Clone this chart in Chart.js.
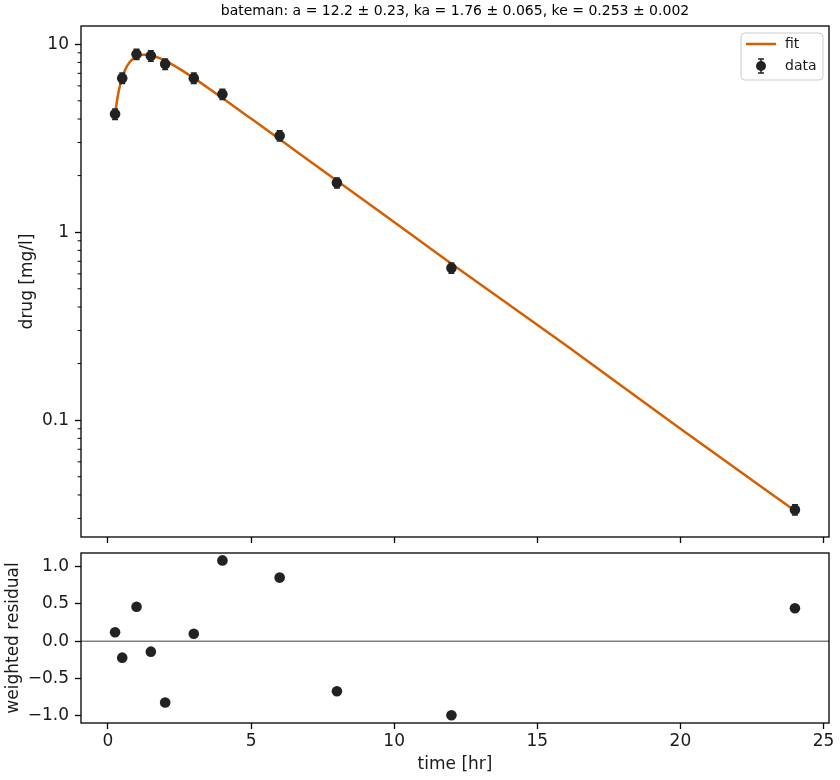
<!DOCTYPE html>
<html>
<head>
<meta charset="utf-8">
<script src="https://cdn.jsdelivr.net/npm/chart.js@4.4.1/dist/chart.umd.min.js"></script>
<style>
  html, body { margin: 0; padding: 0; background: #fff; }
  .box { position: absolute; left: 0; width: 840px; }
</style>
</head>
<body>
<div class="box" style="top:0;height:545px"><canvas id="top"></canvas></div>
<div class="box" style="top:545px;height:235px"><canvas id="bot"></canvas></div>
<script>
// measured samples
const times = [0.25, 0.5, 1, 1.5, 2, 3, 4, 6, 8, 12, 24];
const drug = [4.25, 6.6, 8.85, 8.67, 7.84, 6.6, 5.42, 3.26, 1.83, 0.645, 0.0334];
const drugErr = [0.27, 0.42, 0.56, 0.55, 0.5, 0.42, 0.34, 0.2, 0.11, 0.04, 0.0021];
const residuals = [0.12, -0.22, 0.46, -0.14, -0.82, 0.10, 1.08, 0.85, -0.67, -0.99, 0.44];

// fitted curve
const fitTimes = [0.25, 0.3, 0.35, 0.4, 0.5, 0.6, 0.7, 0.8, 0.9, 1.0, 1.2, 1.4, 1.6, 1.8, 2, 2.5, 3, 3.5, 4, 5, 6, 8, 12, 16, 20, 24];
const fitDrug = [4.2, 4.8, 5.35, 5.83, 6.65, 7.29, 7.78, 8.15, 8.43, 8.61, 8.79, 8.79, 8.65, 8.44, 8.17, 7.39, 6.6, 5.85, 5.17, 4.02, 3.12, 1.88, 0.68, 0.25, 0.09, 0.033];

const xTicks = [0, 5, 10, 15, 20, 25];
const drugTicks = [0.1, 1, 10];
const residTicks = [-1, -0.5, 0, 0.5, 1];

const titleText = 'bateman: a = 12.2 \u00b1 0.23, ka = 1.76 \u00b1 0.065, ke = 0.253 \u00b1 0.002';

const dataColor = '#222222';
const fitColor = '#d55e00';
const FONT = '"DejaVu Sans", sans-serif';

Chart.defaults.font.family = FONT;
Chart.defaults.font.size = 17;
Chart.defaults.color = '#1a1a1a';

const xRange = { min: -0.94, max: 25.19 };

function tickAxis(ticks) {
  return scale => { scale.ticks = ticks.map(v => ({ value: v })); };
}

// box around the plot area
const frame = {
  id: 'frame',
  afterDraw(chart) {
    const { ctx, chartArea: a } = chart;
    ctx.save();
    ctx.strokeStyle = '#000';
    ctx.lineWidth = 1.3;
    ctx.strokeRect(a.left, a.top, a.right - a.left, a.bottom - a.top);
    ctx.restore();
  }
};

// title centred over the plot area, like matplotlib
const axTitle = {
  id: 'axTitle',
  afterDraw(chart) {
    const { ctx, chartArea: a } = chart;
    ctx.save();
    ctx.fillStyle = '#000';
    ctx.font = '14px ' + FONT;
    ctx.textAlign = 'center';
    ctx.textBaseline = 'middle';
    ctx.fillText(titleText, (a.left + a.right) / 2, 11);
    ctx.restore();
  }
};

const minorTicks = {
  id: 'minorTicks',
  afterDraw(chart) {
    const { ctx, chartArea: a } = chart;
    const y = chart.scales.y;
    ctx.save();
    ctx.strokeStyle = '#000';
    ctx.lineWidth = 1;
    ctx.beginPath();
    for (let e = -2; e <= 1; e++) {
      for (let m = 2; m <= 9; m++) {
        const v = m * Math.pow(10, e);
        if (v < y.min || v > y.max) continue;
        const py = y.getPixelForValue(v);
        ctx.moveTo(a.left, py);
        ctx.lineTo(a.left - 3.4, py);
      }
    }
    ctx.stroke();
    ctx.restore();
  }
};

const errorBars = {
  id: 'errorBars',
  afterDatasetsDraw(chart) {
    const { ctx } = chart;
    const x = chart.scales.x, y = chart.scales.y;
    ctx.save();
    ctx.strokeStyle = dataColor;
    ctx.lineWidth = 1.5;
    times.forEach((t, i) => {
      const px = x.getPixelForValue(t);
      const lo = y.getPixelForValue(drug[i] - drugErr[i]);
      const hi = y.getPixelForValue(drug[i] + drugErr[i]);
      ctx.beginPath();
      ctx.moveTo(px, lo); ctx.lineTo(px, hi);
      ctx.moveTo(px - 3, lo); ctx.lineTo(px + 3, lo);
      ctx.moveTo(px - 3, hi); ctx.lineTo(px + 3, hi);
      ctx.stroke();
    });
    ctx.restore();
  }
};

const legendBox = {
  id: 'legendBox',
  afterDraw(chart) {
    const { ctx, chartArea: a } = chart;
    const left = a.right - 88, top = a.top + 7, w = 82, h = 47;
    ctx.save();
    ctx.fillStyle = 'rgba(255,255,255,0.8)';
    ctx.strokeStyle = '#cccccc';
    ctx.lineWidth = 1;
    ctx.beginPath();
    ctx.roundRect(left, top, w, h, 4);
    ctx.fill();
    ctx.stroke();
    // fit entry
    ctx.strokeStyle = fitColor;
    ctx.lineWidth = 2.5;
    ctx.beginPath();
    ctx.moveTo(left + 5, top + 11);
    ctx.lineTo(left + 35, top + 11);
    ctx.stroke();
    // data entry
    const mx = left + 20, my = top + 33;
    ctx.strokeStyle = dataColor;
    ctx.lineWidth = 1.5;
    ctx.beginPath();
    ctx.moveTo(mx, my - 7); ctx.lineTo(mx, my + 7);
    ctx.moveTo(mx - 3, my - 7); ctx.lineTo(mx + 3, my - 7);
    ctx.moveTo(mx - 3, my + 7); ctx.lineTo(mx + 3, my + 7);
    ctx.stroke();
    ctx.fillStyle = dataColor;
    ctx.beginPath();
    ctx.arc(mx, my, 5, 0, Math.PI * 2);
    ctx.fill();
    ctx.fillStyle = '#1a1a1a';
    ctx.font = '14px ' + FONT;
    ctx.textBaseline = 'middle';
    ctx.fillText('fit', left + 44, top + 11);
    ctx.fillText('data', left + 44, top + 33);
    ctx.restore();
  }
};

const zeroLine = {
  id: 'zeroLine',
  beforeDatasetsDraw(chart) {
    const { ctx, chartArea: a } = chart;
    const py = chart.scales.y.getPixelForValue(0);
    ctx.save();
    ctx.strokeStyle = '#808080';
    ctx.lineWidth = 1.5;
    ctx.beginPath();
    ctx.moveTo(a.left, py);
    ctx.lineTo(a.right, py);
    ctx.stroke();
    ctx.restore();
  }
};

const tickGrid = { drawOnChartArea: false, tickLength: 6, tickColor: '#000', tickWidth: 1.3 };

new Chart(document.getElementById('top'), {
  data: {
    datasets: [
      {
        type: 'scatter',
        label: 'data',
        data: times.map((t, i) => ({ x: t, y: drug[i] })),
        pointRadius: 5.3,
        pointBorderWidth: 0,
        pointBackgroundColor: dataColor,
        order: 0,
      },
      {
        type: 'line',
        label: 'fit',
        data: fitTimes.map((t, i) => ({ x: t, y: fitDrug[i] })),
        borderColor: fitColor,
        borderWidth: 2.5,
        pointRadius: 0,
        cubicInterpolationMode: 'monotone',
        order: 1,
      },
    ],
  },
  options: {
    responsive: true,
    maintainAspectRatio: false,
    animation: false,
    layout: { padding: { left: 0, right: 11, top: 26, bottom: 0 } },
    plugins: {
      legend: { display: false },
      tooltip: { enabled: false },
    },
    scales: {
      x: {
        type: 'linear',
        min: xRange.min,
        max: xRange.max,
        afterBuildTicks: tickAxis(xTicks),
        afterFit: s => { s.height = 8; s.paddingLeft = 0; s.paddingRight = 0; },
        ticks: { callback: () => '' },
        grid: tickGrid,
        border: { display: false },
      },
      y: {
        type: 'logarithmic',
        min: 0.0239,
        max: 12.5,
        afterBuildTicks: tickAxis(drugTicks),
        afterFit: s => { s.width = 81; s.paddingTop = 0; s.paddingBottom = 0; },
        ticks: { padding: 6, callback: v => String(v) },
        grid: tickGrid,
        border: { display: false },
        title: { display: true, text: 'drug [mg/l]', padding: 17.8 },
      },
    },
  },
  plugins: [errorBars, minorTicks, frame, legendBox, axTitle],
});

new Chart(document.getElementById('bot'), {
  type: 'scatter',
  data: {
    datasets: [{
      label: 'residual',
      data: times.map((t, i) => ({ x: t, y: residuals[i] })),
      pointRadius: 5.3,
      pointBorderWidth: 0,
      pointBackgroundColor: dataColor,
    }],
  },
  options: {
    responsive: true,
    maintainAspectRatio: false,
    animation: false,
    layout: { padding: { left: 0, right: 11, top: 8, bottom: 0 } },
    plugins: { legend: { display: false }, tooltip: { enabled: false } },
    scales: {
      x: {
        type: 'linear',
        min: xRange.min,
        max: xRange.max,
        afterBuildTicks: tickAxis(xTicks),
        afterFit: s => { s.height = 57; s.paddingLeft = 0; s.paddingRight = 0; },
        ticks: { padding: 2, callback: v => String(v) },
        grid: tickGrid,
        border: { display: false },
        title: { display: true, text: 'time [hr]', padding: 4.8 },
      },
      y: {
        min: -1.094,
        max: 1.179,
        afterBuildTicks: tickAxis(residTicks),
        afterFit: s => { s.width = 81; s.paddingTop = 0; s.paddingBottom = 0; },
        ticks: { padding: 6, callback: v => v.toFixed(1).replace('-', '\u2212') },
        grid: tickGrid,
        border: { display: false },
        title: { display: true, text: 'weighted residual', padding: 3.8 },
      },
    },
  },
  plugins: [zeroLine, frame],
});
</script>
</body>
</html>
